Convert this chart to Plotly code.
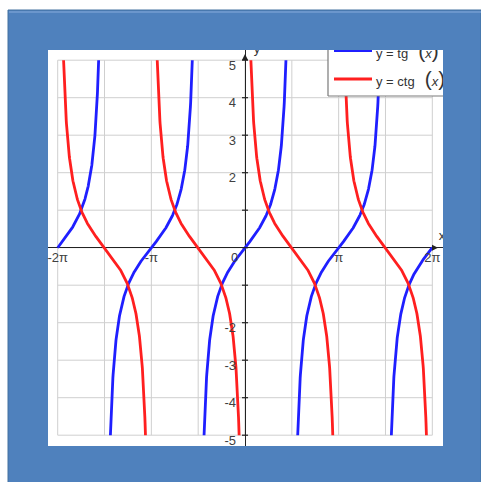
import numpy as np
import plotly.graph_objects as go

# ---------------- data ----------------
series_names = ["tg", "ctg"]
series_colors = ["#1f1fff", "#ff1f1f"]
x_start, x_end = -2 * np.pi, 2 * np.pi          # plotted domain
y_clip = 5                                        # curves clipped to |y| <= 5
x_tick_vals = [-2 * np.pi, -np.pi, np.pi, 2 * np.pi]
x_tick_text = ["-2π", "-π", "π", "2π"]
y_tick_vals = [-5, -4, -3, -2, 2, 3, 4, 5]
y_tick_text = ["-5", "-4", "-3", "-2", "2", "3", "4", "5"]
x_grid_vals = [k * np.pi / 2 for k in range(-4, 5)]
y_grid_vals = list(range(-5, 6))
y_tick_marks = list(range(-5, 6))

# ---------------- geometry ----------------
W, H = 481, 482
L, R, T, B = 48, 443, 50, 446          # white plot area (px)
PX_XM2P, PX_X0, PX_X2P = 57.7, 245.0, 432.3
PX_Y5, PX_Y0, PX_YM5 = 60.2, 247.7, 435.2
sx = (PX_X2P - PX_XM2P) / (4 * np.pi)
sy = (PX_YM5 - PX_Y5) / 10.0
xr = [-(PX_X0 - L) / sx, (R - PX_X0) / sx]
yr = [-(B - PX_Y0) / sy, (PX_Y0 - T) / sy]


def fx(px):
    return (px - L) / (R - L)


def fy(py):
    return (B - py) / (B - T)


def branches(func, centers, half):
    xs, ys = [], []
    for c in centers:
        a = max(c - half, x_start)
        b = min(c + half, x_end)
        if b <= a:
            continue
        xx = np.linspace(a, b, 400)
        xs += list(xx) + [None]
        ys += list(func(xx)) + [None]
    return xs, ys


tg_x, tg_y = branches(np.tan, [k * np.pi for k in range(-2, 3)], np.arctan(y_clip))
ctg_x, ctg_y = branches(lambda v: 1 / np.tan(v),
                        [np.pi / 2 + k * np.pi for k in range(-3, 2)],
                        np.pi / 2 - np.arctan(1 / y_clip))

fig = go.Figure()
for (xx, yy), name, col in zip([(tg_x, tg_y), (ctg_x, ctg_y)], series_names, series_colors):
    fig.add_trace(go.Scatter(x=xx, y=yy, mode="lines", name=name,
                             line=dict(color=col, width=2.8), showlegend=False,
                             hoverinfo="skip"))

# ---- custom legend (clipped to white area via overlay axes) ----
lx0, ly1 = 328, 96
fig.add_trace(go.Scatter(
    x=[fx(lx0), fx(lx0), fx(470), fx(470), fx(lx0)],
    y=[fy(ly1), fy(30), fy(30), fy(ly1), fy(ly1)],
    mode="lines", fill="toself", fillcolor="white",
    line=dict(color="#7a7a7a", width=1.2),
    xaxis="x2", yaxis="y2", showlegend=False, hoverinfo="skip"))
leg_rows = [50.5, 79.0]
leg_text_y = [55.0, 83.0]
paren = "<span style='font-size:21px;font-weight:300'>{}</span>"
leg_labels = [
    "y = tg \u2002" + paren.format("(") + "<i>x</i>" + paren.format(")"),
    "y = ctg \u2002" + paren.format("(") + "<i>x</i>" + paren.format(")"),
]
for ry, ty, lab, col in zip(leg_rows, leg_text_y, leg_labels, series_colors):
    fig.add_trace(go.Scatter(x=[fx(334), fx(372)], y=[fy(ry), fy(ry)], mode="lines",
                             line=dict(color=col, width=2.8), xaxis="x2", yaxis="y2",
                             showlegend=False, hoverinfo="skip"))
    fig.add_trace(go.Scatter(x=[fx(376)], y=[fy(ty)], mode="text", text=[lab],
                             textposition="middle right",
                             textfont=dict(family="Liberation Sans, Arial", size=13, color="#333333"),
                             xaxis="x2", yaxis="y2", cliponaxis=True,
                             showlegend=False, hoverinfo="skip"))

# axis arrows and names
fig.add_trace(go.Scatter(x=[fx(PX_X0), fx(438)], y=[fy(54), fy(PX_Y0)], mode="markers",
                         marker=dict(symbol=["arrow-up", "arrow-right"], size=6, color="#222222"),
                         xaxis="x2", yaxis="y2", cliponaxis=True,
                         showlegend=False, hoverinfo="skip"))
fig.add_trace(go.Scatter(x=[fx(257), fx(442)], y=[fy(50), fy(237)], mode="text", text=["y", "x"],
                         textfont=dict(family="Liberation Sans, Arial", size=13, color="#333333"),
                         xaxis="x2", yaxis="y2", cliponaxis=True,
                         showlegend=False, hoverinfo="skip"))

shapes = []
# blue frame
shapes.append(dict(type="rect", xref="paper", yref="paper", layer="below",
                   x0=fx(8), x1=fx(481), y0=fy(483), y1=fy(10),
                   fillcolor="#4f81bd", line=dict(color="#42709f", width=1)))
shapes.append(dict(type="line", xref="paper", yref="paper", layer="below",
                   x0=fx(9), x1=fx(481), y0=fy(12), y1=fy(12),
                   line=dict(color="#6b96cc", width=2)))
shapes.append(dict(type="rect", xref="paper", yref="paper", layer="below",
                   x0=0, x1=1, y0=0, y1=1, fillcolor="white", line=dict(width=0)))
# grid
for gx in x_grid_vals:
    shapes.append(dict(type="line", xref="x", yref="y", layer="below",
                       x0=gx, x1=gx, y0=min(y_grid_vals), y1=max(y_grid_vals),
                       line=dict(color="#cfcfcf", width=1)))
for gy in y_grid_vals:
    shapes.append(dict(type="line", xref="x", yref="y", layer="below",
                       x0=min(x_grid_vals), x1=max(x_grid_vals), y0=gy, y1=gy,
                       line=dict(color="#cfcfcf", width=1)))
# tick marks across y axis
for v in y_tick_marks:
    shapes.append(dict(type="line", xref="x", yref="y", xsizemode="pixel", xanchor=0,
                       x0=-3, x1=3, y0=v, y1=v, line=dict(color="#222222", width=1.2)))

fig.update_layout(
    width=W, height=H,
    margin=dict(l=L, r=W - R, t=T, b=H - B, pad=0),
    paper_bgcolor="white", plot_bgcolor="white",
    shapes=shapes,
    font=dict(family="Liberation Sans, Arial", size=13, color="#404040"),
    xaxis=dict(range=xr, showgrid=False, zeroline=True, zerolinecolor="#222222",
               zerolinewidth=1.4, showline=False, anchor="free",
               position=(0 - yr[0]) / (yr[1] - yr[0]),
               tickmode="array", tickvals=x_tick_vals, ticktext=x_tick_text,
               ticks="", ticklabelstandoff=0, fixedrange=True),
    yaxis=dict(range=yr, showgrid=False, zeroline=True, zerolinecolor="#222222",
               zerolinewidth=1.4, showline=False, anchor="free",
               position=(0 - xr[0]) / (xr[1] - xr[0]),
               tickmode="array", tickvals=y_tick_vals, ticktext=y_tick_text,
               ticks="", ticklabelstandoff=9, ticklabelshift=5, fixedrange=True),
    xaxis2=dict(range=[0, 1], overlaying="x", visible=False, fixedrange=True),
    yaxis2=dict(range=[0, 1], overlaying="y", visible=False, fixedrange=True),
    annotations=[dict(x=0, y=0, xref="x", yref="y", text="0", showarrow=False,
                      xanchor="right", yanchor="top", xshift=-5, yshift=0,
                      font=dict(size=13, color="#404040"))],
    showlegend=False,
)

fig.write_html("out.html", config={"displayModeBar": False},
               post_script="document.body.style.margin='0';document.body.style.padding='0';"
                           "document.body.style.overflow='hidden';")
